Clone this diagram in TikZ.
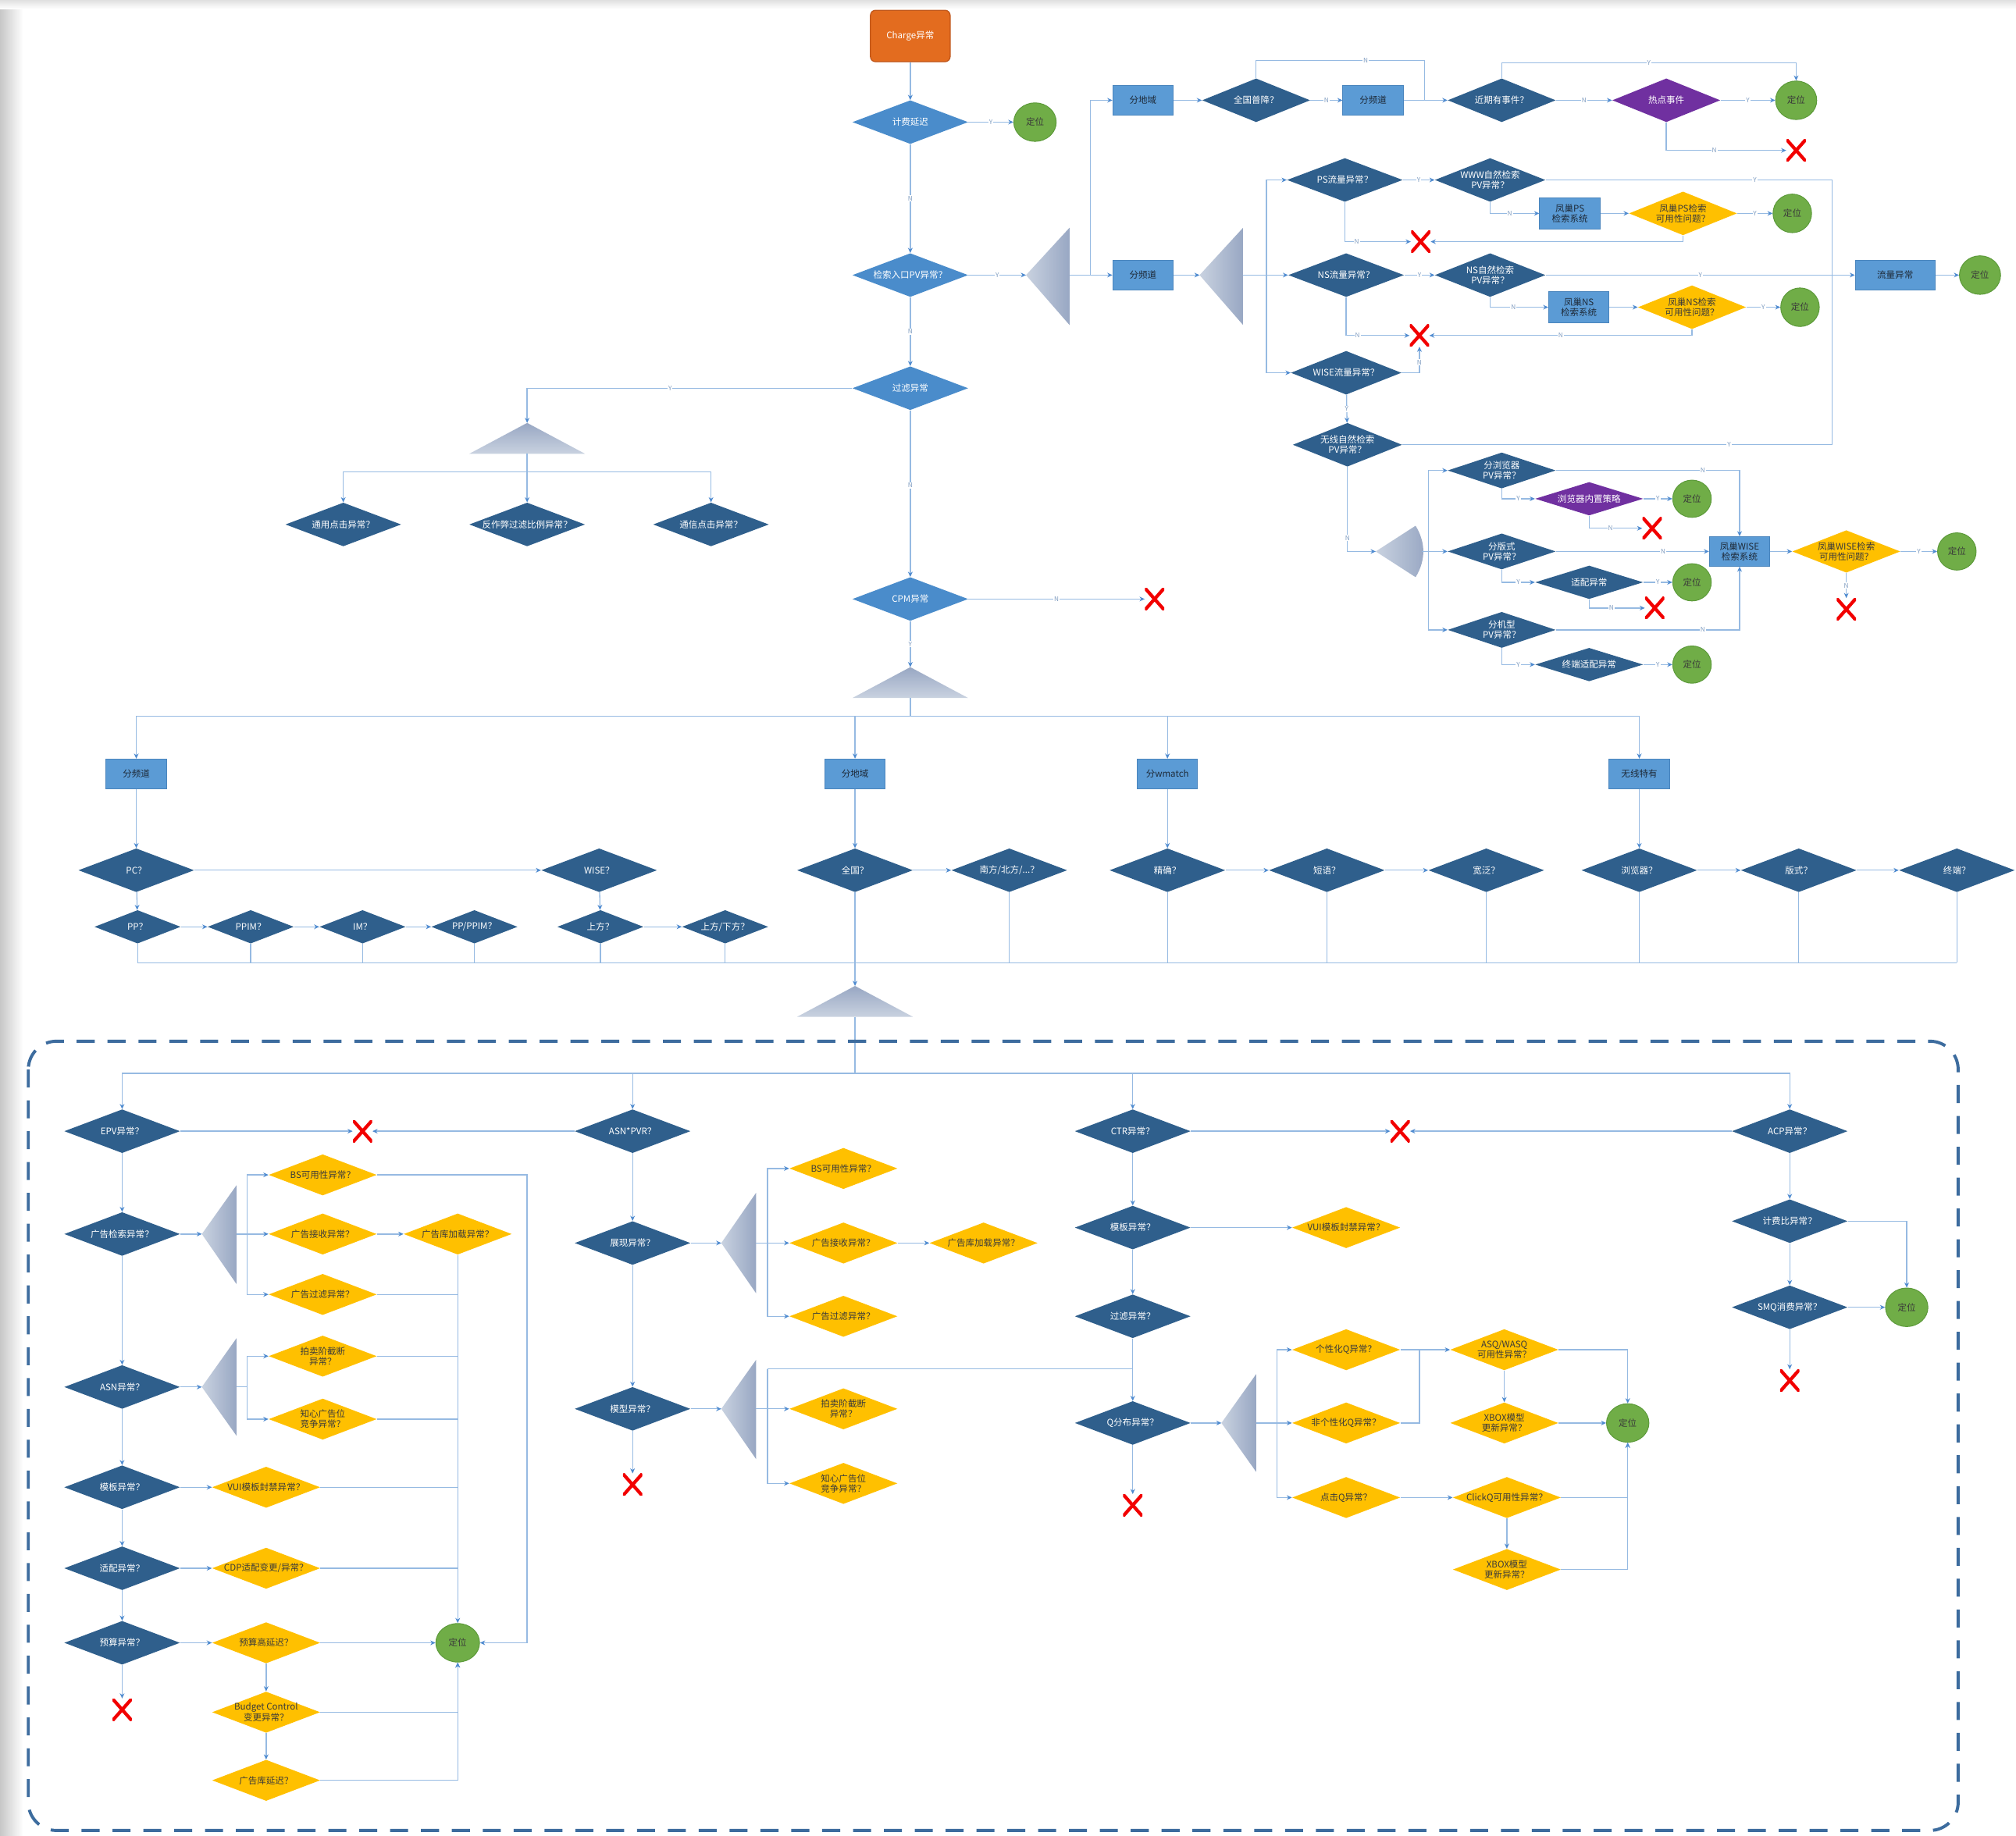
\documentclass[tikz,border=0pt]{standalone}
\usepackage{fontspec}
\setmainfont{Noto Sans CJK SC}
\usetikzlibrary{shapes.geometric,arrows.meta,calc}
\definecolor{mblue}{HTML}{4A8CCB}
\definecolor{dblue}{HTML}{2F5F8C}
\definecolor{yel}{HTML}{FFC000}
\definecolor{purp}{HTML}{7030A0}
\definecolor{boxblue}{HTML}{5B9BD5}
\definecolor{boxedge}{HTML}{4A85BD}
\definecolor{okgreen}{HTML}{70AD47}
\definecolor{okedge}{HTML}{5C9A3A}
\definecolor{orng}{HTML}{E36C1F}
\definecolor{orngedge}{HTML}{C0561A}
\definecolor{lnblue}{HTML}{96BAE2}
\definecolor{tipblue}{HTML}{4F8BD0}
\definecolor{labc}{HTML}{7F9CC0}
\definecolor{trilight}{HTML}{C9D2E0}
\definecolor{tridark}{HTML}{98A7C3}
\definecolor{dashc}{HTML}{3D6C9E}
\definecolor{xred}{HTML}{F20000}
\definecolor{ytext}{HTML}{3A3A3A}
\definecolor{boxtext}{HTML}{1E2A38}
\tikzset{
  base/.style={font=\fontsize{7}{8}\selectfont, align=center, inner sep=0pt},
  dia/.style={base, diamond, shape aspect=2.6, inner xsep=-9pt, inner ysep=-1pt, minimum width=90pt, minimum height=34pt},
  mdia/.style={dia, fill=mblue, text=white},
  ddia/.style={dia, fill=dblue, text=white},
  smdia/.style={minimum width=67pt, minimum height=26pt},
  ydia/.style={dia, fill=yel, text=ytext, minimum width=84pt, minimum height=32pt},
  pdia/.style={dia, fill=purp, text=white, minimum width=84pt},
  bbox/.style={base, rectangle, fill=boxblue, draw=boxedge, line width=0.6pt, minimum width=47pt, minimum height=23pt, text=boxtext},
  okc/.style={base, ellipse, fill=okgreen, draw=okedge, line width=0.6pt, inner sep=-3pt, minimum width=33pt, minimum height=30pt, text=ytext},
  chg/.style={base, rectangle, rounded corners=4pt, fill=orng, draw=orngedge, line width=0.8pt, minimum width=62pt, minimum height=40pt, text=white},
  xmk/.style={minimum width=15pt, minimum height=17pt, inner sep=0pt,
    path picture={\draw[xred, line width=2.6pt]
      (path picture bounding box.north west) -- (path picture bounding box.south east)
      (path picture bounding box.north east) -- (path picture bounding box.south west);}},
  ln/.style={draw=lnblue, line width=0.8pt},
  ar/.style={ln, -{Stealth[length=4pt,width=3.6pt,color=tipblue]}},
  lab/.style={font=\fontsize{5}{5}\selectfont, text=labc, fill=white, inner sep=0.6pt},
  trih/.style={left color=trilight, right color=tridark},
  trv/.style={top color=tridark, bottom color=trilight},
  dashbox/.style={draw=dashc, line width=2.4pt, dash pattern=on 14pt off 10pt, rounded corners=22pt}
}
\begin{document}
\begin{tikzpicture}[x=1pt,y=-1pt]
\useasboundingbox (0,0) rectangle (1568,1428);
\fill[white] (0,0) rectangle (1568,1428);
\shade[left color=black!22, right color=white] (0,0) rectangle (18,1428);
\shade[top color=black!12, bottom color=white] (0,0) rectangle (1568,7);

% ---------- main column ----------
\node[chg] (charge) at (708,28) {Charge异常};
\node[mdia] (m1) at (708,95) {计费延迟};
\node[okc] (ok1) at (805,95) {定位};
\node[mdia] (m2) at (708,214) {检索入口PV异常？};
\node[mdia] (m3) at (708,302) {过滤异常};
\node[mdia] (m4) at (708,466) {CPM异常};
\node[xmk] (x1) at (898,466) {};

\shade[trih] (798,214) -- (832,177) -- (832,253) -- cycle;
\coordinate (t1a) at (798,214); \coordinate (t1b) at (832,214);
\coordinate (j1) at (848,214);
\shade[trv] (410,329) -- (455,353) -- (365,353) -- cycle;
\coordinate (t3a) at (410,329); \coordinate (t3b) at (410,353);
\coordinate (c3) at (410,302); \coordinate (c4) at (410,367);
\shade[trv] (708,519) -- (753,543) -- (663,543) -- cycle;
\coordinate (t4a) at (708,519); \coordinate (t4b) at (708,543);
\coordinate (c5) at (708,557);

\draw[ar] (charge) -- (m1);
\draw[ar] (m1) -- node[lab]{Y} (ok1);
\draw[ar] (m1) -- node[lab]{N} (m2);
\draw[ar] (m2) -- node[lab]{Y} (t1a);
\draw[ar] (m2) -- node[lab]{N} (m3);
\draw[ar] (m3) -- node[lab,pos=0.45]{N} (m4);
\draw[ar] (m3.west) -- node[lab,pos=0.56]{Y} (c3) -- (t3a);
\draw[ar] (m4) -- node[lab]{N} (x1);
\draw[ar] (m4) -- node[lab]{Y} (t4a);

% left branch of filter
\node[ddia] (l1) at (267,408) {通用点击异常？};
\node[ddia] (l2) at (410,408) {反作弊过滤比例异常？};
\node[ddia] (l3) at (553,408) {通信点击异常？};
\draw[ar] (t3b) -- (l2);
\draw[ar] (c4) -| (l1);
\draw[ar] (c4) -| (l3);

% ---------- top right ----------
\node[bbox] (b1) at (889,78) {分地域};
\node[bbox] (b2) at (889,214) {分频道};
\node[ddia, minimum width=84pt] (d1) at (977,78) {全国普降？};
\node[bbox] (b3) at (1068,78) {分频道};
\node[ddia, minimum width=84pt] (d2) at (1168,78) {近期有事件？};
\node[pdia] (p1) at (1296,78) {热点事件};
\node[okc, minimum width=32pt] (ok2) at (1397,78) {定位};
\node[xmk] (x2) at (1397,117) {};

\draw[ar] (t1b) -- (b2);
\draw[ar] (t1b) -- (j1) |- (b1);
\draw[ar] (b1) -- (d1);
\draw[ar] (d1) -- node[lab]{N} (b3);
\draw[ar] (b3) -- (d2);
\draw[ln] (d1.north) -- (977,47) -- node[lab,pos=0.65]{N} (1108,47) -- (1108,78);
\draw[ar] (d2) -- node[lab]{N} (p1);
\draw[ar] (d2.north) -- (1168,49) -- node[lab]{Y} (1397,49) -- (ok2);
\draw[ar] (p1) -- node[lab]{Y} (ok2);
\draw[ar] (p1.south) |- node[lab,pos=0.7]{N} (x2);

% second branch
\shade[trih] (933,214) -- (967,177) -- (967,253) -- cycle;
\coordinate (t2a) at (933,214); \coordinate (t2b) at (967,214);
\coordinate (j2) at (985,214);
\node[ddia] (ps) at (1046,140) {PS流量异常？};
\node[ddia] (ns) at (1047,214) {NS流量异常？};
\node[ddia, minimum width=86pt] (wf) at (1047,290) {WISE流量异常？};
\draw[ar] (b2) -- (t2a);
\draw[ar] (t2b) -- (ns);
\draw[ar] (j2) |- (ps);
\draw[ar] (j2) |- (wf);

\node[ddia, minimum width=86pt] (www) at (1159,140) {WWW自然检索\\PV异常？};
\node[bbox, minimum height=24pt] (fps) at (1221,166) {凤巢PS\\检索系统};
\node[ydia, minimum height=34pt] (yps) at (1309,166) {凤巢PS检索\\可用性问题？};
\node[okc, minimum width=30pt] (ok3) at (1394,166) {定位};
\node[xmk] (x3) at (1105,188) {};
\draw[ar] (ps) -- node[lab]{Y} (www);
\draw[ar] (www.south) |- node[lab,pos=0.7]{N} (fps);
\draw[ar] (fps) -- (yps);
\draw[ar] (yps) -- node[lab]{Y} (ok3);
\draw[ar] (yps.south) |- (x3);
\draw[ar] (ps.south) |- node[lab,pos=0.59]{N} (x3);

\node[ddia, minimum width=86pt] (nsn) at (1159,214) {NS自然检索\\PV异常？};
\node[bbox, minimum height=24pt] (fns) at (1228,239) {凤巢NS\\检索系统};
\node[ydia, minimum height=34pt] (yns) at (1316,239) {凤巢NS检索\\可用性问题？};
\node[okc, minimum width=30pt] (ok4) at (1400,239) {定位};
\node[xmk] (x4) at (1104,261) {};
\node[bbox, minimum width=62pt] (flow) at (1474,214) {流量异常};
\node[okc, minimum width=32pt] (ok5) at (1540,214) {定位};
\draw[ar] (ns) -- node[lab]{Y} (nsn);
\draw[ar] (nsn) -- node[lab]{Y} (flow);
\draw[ar] (flow) -- (ok5);
\draw[ar] (nsn.south) |- node[lab,pos=0.7]{N} (fns);
\draw[ar] (fns) -- (yns);
\draw[ar] (yns) -- node[lab]{Y} (ok4);
\draw[ar] (yns.south) |- node[lab,pos=0.75]{N} (x4);
\draw[ar] (ns.south) |- node[lab,pos=0.59]{N} (x4);
\draw[ar] (wf.east) -| node[lab,pos=0.7]{N} (x4);

\node[ddia, minimum width=85pt] (wn) at (1048,346) {无线自然检索\\PV异常？};
\draw[ar] (wf) -- node[lab]{Y} (wn);
\draw[ln] (www.east) -- node[lab,pos=0.73]{Y} (1425,140) -- (1425,346) -- node[lab,pos=0.24]{Y} (wn.east);

% WISE subtree
\shade[trih] (1070,429) -- (1101,409) .. controls (1109,422) and (1109,436) .. (1101,449) -- cycle;
\coordinate (wtip) at (1070,429); \coordinate (wout) at (1106,429);
\coordinate (j3) at (1111,429);
\node[ddia, minimum width=84pt, minimum height=28pt] (sb) at (1168,366) {分浏览器\\PV异常？};
\node[ddia, minimum width=84pt, minimum height=28pt] (sv) at (1168,429) {分版式\\PV异常？};
\node[ddia, minimum width=84pt, minimum height=28pt] (sm) at (1168,490) {分机型\\PV异常？};
\node[pdia, minimum height=26pt] (pb) at (1236,388) {浏览器内置策略};
\node[okc, minimum width=30pt, minimum height=29pt] (ok6) at (1316,388) {定位};
\node[xmk] (x5) at (1285,411) {};
\node[ddia, minimum width=84pt, minimum height=26pt] (sa) at (1236,453) {适配异常};
\node[okc, minimum width=30pt, minimum height=29pt] (ok10) at (1316,453) {定位};
\node[xmk] (x12) at (1287,473) {};
\node[ddia, minimum width=84pt, minimum height=26pt] (st) at (1236,517) {终端适配异常};
\node[okc, minimum width=30pt, minimum height=29pt] (ok11) at (1316,517) {定位};
\node[bbox] (fw) at (1353,429) {凤巢WISE\\检索系统};
\node[ydia, minimum height=33pt] (yw) at (1436,429) {凤巢WISE检索\\可用性问题？};
\node[okc, minimum width=30pt, minimum height=29pt] (ok12) at (1522,429) {定位};
\node[xmk] (x13) at (1436,474) {};

\draw[ar] (wn.south) |- node[lab,pos=0.42]{N} (wtip);
\draw[ar] (wout) -- (sv);
\draw[ar] (j3) |- (sb);
\draw[ar] (j3) |- (sm);
\draw[ar] (sb.south) |- node[lab,pos=0.75]{Y} (pb);
\draw[ar] (pb) -- node[lab]{Y} (ok6);
\draw[ar] (pb.south) |- node[lab,pos=0.7]{N} (x5);
\draw[ar] (sb.east) -- node[lab,pos=0.8]{N} (1353,366) -- (fw.north);
\draw[ar] (sv) -- node[lab,pos=0.7]{N} (fw);
\draw[ar] (sm.east) -- node[lab,pos=0.8]{N} (1353,490) -- (fw.south);
\draw[ar] (sv.south) |- node[lab,pos=0.75]{Y} (sa);
\draw[ar] (sa) -- node[lab]{Y} (ok10);
\draw[ar] (sa.south) |- node[lab,pos=0.7]{N} (x12);
\draw[ar] (sm.south) |- node[lab,pos=0.75]{Y} (st);
\draw[ar] (st) -- node[lab]{Y} (ok11);
\draw[ar] (fw) -- (yw);
\draw[ar] (yw) -- node[lab]{Y} (ok12);
\draw[ar] (yw) -- node[lab]{N} (x13);

% ---------- middle dimension rows ----------
\node[bbox] (k1) at (106,602) {分频道};
\node[bbox] (k2) at (665,602) {分地域};
\node[bbox] (k3) at (908,602) {分wmatch};
\node[bbox] (k4) at (1275,602) {无线特有};
\draw[ln] (t4b) -- (c5);
\draw[ar] (c5) -| (k1);
\draw[ar] (c5) -| (k2);
\draw[ar] (c5) -| (k3);
\draw[ar] (c5) -| (k4);

\node[ddia] (r1) at (106,677) {PC？};
\node[ddia] (r2) at (466,677) {WISE？};
\node[ddia, smdia] (r3) at (107,721) {PP？};
\node[ddia, smdia] (r4) at (195,721) {PPIM？};
\node[ddia, smdia] (r5) at (282,721) {IM？};
\node[ddia, smdia] (r6) at (369,721) {PP/PPIM？};
\node[ddia, smdia] (r7) at (467,721) {上方？};
\node[ddia, smdia] (r8) at (564,721) {上方/下方？};
\node[ddia] (r9) at (665,677) {全国？};
\node[ddia] (r10) at (785,677) {南方/北方/...？};
\node[ddia] (r11) at (908,677) {精确？};
\node[ddia] (r12) at (1032,677) {短语？};
\node[ddia] (r13) at (1156,677) {宽泛？};
\node[ddia] (r14) at (1275,677) {浏览器？};
\node[ddia] (r15) at (1399,677) {版式？};
\node[ddia] (r16) at (1522,677) {终端？};

\draw[ar] (k1) -- (r1);
\draw[ar] (r1) -- (r2);
\draw[ar] (r1) -- (r3);
\draw[ar] (r3) -- (r4);
\draw[ar] (r4) -- (r5);
\draw[ar] (r5) -- (r6);
\draw[ar] (r2) -- (r7);
\draw[ar] (r7) -- (r8);
\draw[ar] (k2) -- (r9);
\draw[ar] (r9) -- (r10);
\draw[ar] (k3) -- (r11);
\draw[ar] (r11) -- (r12);
\draw[ar] (r12) -- (r13);
\draw[ar] (k4) -- (r14);
\draw[ar] (r14) -- (r15);
\draw[ar] (r15) -- (r16);

\coordinate (bl) at (107,749); \coordinate (br) at (1522,749);
\draw[ln] (bl) -- (br);
\foreach \n in {r3,r4,r5,r6,r7,r8,r10,r11,r12,r13,r14,r15,r16}
  \draw[ln] (\n.south) -- (\n.south |- bl);
\shade[trv] (665,767) -- (710,791) -- (620,791) -- cycle;
\coordinate (t5a) at (665,767); \coordinate (t5b) at (665,791);
\draw[ar] (r9.south) -- (t5a);
\coordinate (c7) at (665,835);
\draw[ln] (t5b) -- (c7);

% ---------- dashed region ----------
\draw[dashbox] (22,810) rectangle (1523,1424);

% column 1
\node[ddia] (e1) at (95,880) {EPV异常？};
\node[xmk] (x6) at (282,880) {};
\node[ddia] (e2) at (95,960) {广告检索异常？};
\node[ddia] (e3) at (95,1079) {ASN异常？};
\node[ddia] (e4) at (95,1157) {模板异常？};
\node[ddia] (e5) at (95,1220) {适配异常？};
\node[ddia] (e6) at (95,1278) {预算异常？};
\node[xmk] (x7) at (95,1330) {};
\node[ydia] (y1) at (251,914) {BS可用性异常？};
\node[ydia] (y2) at (251,960) {广告接收异常？};
\node[ydia] (y3) at (356,960) {广告库加载异常？};
\node[ydia] (y4) at (251,1007) {广告过滤异常？};
\node[ydia] (y5) at (251,1055) {拍卖阶截断\\异常？};
\node[ydia] (y6) at (251,1104) {知心广告位\\竞争异常？};
\node[ydia] (y7) at (207,1157) {VUI模板封禁异常？};
\node[ydia] (y8) at (207,1220) {CDP适配变更/异常？};
\node[ydia] (y9) at (207,1278) {预算高延迟？};
\node[ydia] (y10) at (207,1332) {Budget Control\\变更异常？};
\node[ydia] (y11) at (207,1385) {广告库延迟？};
\node[okc, minimum width=34pt] (ok7) at (356,1278) {定位};

\shade[trih] (157,960) -- (184,922) -- (184,999) -- cycle;
\coordinate (tb1a) at (157,960); \coordinate (tb1b) at (184,960); \coordinate (j4) at (192,960);
\shade[trih] (157,1079) -- (184,1041) -- (184,1117) -- cycle;
\coordinate (tb2a) at (157,1079); \coordinate (tb2b) at (184,1079); \coordinate (j5) at (192,1079);
\coordinate (c8) at (410,914);

\draw[ar] (c7) -| (e1);
\draw[ar] (e1) -- (x6);
\draw[ar] (e1) -- (e2);
\draw[ar] (e2) -- (e3);
\draw[ar] (e3) -- (e4);
\draw[ar] (e4) -- (e5);
\draw[ar] (e5) -- (e6);
\draw[ar] (e6) -- (x7);
\draw[ar] (e2) -- (tb1a);
\draw[ar] (tb1b) -- (y2);
\draw[ar] (j4) |- (y1);
\draw[ar] (j4) |- (y4);
\draw[ar] (y2) -- (y3);
\draw[ar] (y3.south) -- (ok7);
\draw[ar] (y1.east) -- (c8) |- (ok7);
\draw[ar] (e3) -- (tb2a);
\draw[ln] (tb2b) -- (j5);
\draw[ar] (j5) |- (y5);
\draw[ar] (j5) |- (y6);
\draw[ar] (e4) -- (y7);
\draw[ar] (e5) -- (y8);
\draw[ar] (e6) -- (y9);
\draw[ar] (y9) -- (ok7);
\draw[ar] (y9) -- (y10);
\draw[ar] (y10) -- (y11);
\foreach \n in {y4,y5,y6,y7,y8}
  \draw[ln] (\n.east) -- (\n.east -| ok7);
\draw[ar] (y10.east) -| (ok7);
\draw[ar] (y11.east) -| (ok7);

% column 2
\node[ddia] (a1) at (492,880) {ASN*PVR？};
\node[ddia] (a2) at (492,967) {展现异常？};
\node[ddia] (a3) at (492,1096) {模型异常？};
\node[xmk] (x8) at (492,1155) {};
\node[ydia] (z1) at (656,909) {BS可用性异常？};
\node[ydia] (z2) at (656,967) {广告接收异常？};
\node[ydia] (z3) at (765,967) {广告库加载异常？};
\node[ydia] (z4) at (656,1024) {广告过滤异常？};
\node[ydia] (z5) at (656,1096) {拍卖阶截断\\异常？};
\node[ydia] (z6) at (656,1154) {知心广告位\\竞争异常？};
\shade[trih] (561,967) -- (588,928) -- (588,1006) -- cycle;
\coordinate (tb3a) at (561,967); \coordinate (tb3b) at (588,967); \coordinate (j6) at (597,967);
\shade[trih] (561,1096) -- (588,1058) -- (588,1135) -- cycle;
\coordinate (tb4a) at (561,1096); \coordinate (tb4b) at (588,1096); \coordinate (j7) at (597,1065);

\draw[ar] (c7) -| (a1);
\draw[ar] (a1) -- (x6);
\draw[ar] (a1) -- (a2);
\draw[ar] (a2) -- (a3);
\draw[ar] (a3) -- (x8);
\draw[ar] (a2) -- (tb3a);
\draw[ar] (tb3b) -- (z2);
\draw[ar] (j6) |- (z1);
\draw[ar] (j6) |- (z4);
\draw[ar] (z2) -- (z3);
\draw[ar] (a3) -- (tb4a);
\draw[ar] (tb4b) -- (z5);
\draw[ar] (j7) |- (z6);

% column 3
\node[ddia] (q1) at (881,880) {CTR异常？};
\node[xmk] (x9) at (1089,880) {};
\node[ddia] (q2) at (881,955) {模板异常？};
\node[ydia] (qv) at (1047,955) {VUI模板封禁异常？};
\node[ddia] (q3) at (881,1024) {过滤异常？};
\node[ddia] (q4) at (881,1107) {Q分布异常？};
\node[xmk] (x10) at (881,1171) {};
\node[ydia] (qa) at (1047,1050) {个性化Q异常？};
\node[ydia] (qb) at (1047,1107) {非个性化Q异常？};
\node[ydia] (qc) at (1047,1165) {点击Q异常？};
\node[ydia] (qd) at (1170,1050) {ASQ/WASQ\\可用性异常？};
\node[ydia] (qe) at (1170,1107) {XBOX模型\\更新异常？};
\node[ydia] (qf) at (1172,1165) {ClickQ可用性异常？};
\node[ydia] (qg) at (1172,1221) {XBOX模型\\更新异常？};
\node[okc] (ok8) at (1266,1107) {定位};
\shade[trih] (950,1107) -- (977,1069) -- (977,1145) -- cycle;
\coordinate (tb5a) at (950,1107); \coordinate (tb5b) at (977,1107); \coordinate (j8) at (993,1107);
\coordinate (c9) at (881,1065);

\draw[ln] (j7) -- (c9);
\draw[ar] (c7) -| (q1);
\draw[ar] (q1) -- (x9);
\draw[ar] (q1) -- (q2);
\draw[ar] (q2) -- (qv);
\draw[ar] (q2) -- (q3);
\draw[ar] (q3) -- (q4);
\draw[ar] (q4) -- (x10);
\draw[ar] (q4) -- (tb5a);
\draw[ar] (tb5b) -- (qb);
\draw[ar] (j8) |- (qa);
\draw[ar] (j8) |- (qc);
\draw[ar] (qa) -- (qd);
\draw[ln] (qb.east) -- (1104,1107) -- (1104,1050);
\draw[ar] (qd) -- (qe);
\draw[ar] (qd.east) -| (ok8);
\draw[ar] (qe) -- (ok8);
\draw[ar] (qc) -- (qf);
\draw[ar] (qf) -- (qg);
\draw[ar] (qf.east) -| (ok8);
\draw[ar] (qg.east) -| (ok8);

% column 4
\node[ddia] (f1) at (1392,880) {ACP异常？};
\node[ddia] (f2) at (1392,950) {计费比异常？};
\node[ddia] (f3) at (1392,1017) {SMQ消费异常？};
\node[okc] (ok9) at (1483,1017) {定位};
\node[xmk] (x11) at (1392,1074) {};
\draw[ar] (c7) -| (f1);
\draw[ar] (f1) -- (x9);
\draw[ar] (f1) -- (f2);
\draw[ar] (f2) -- (f3);
\draw[ar] (f3) -- (ok9);
\draw[ar] (f2.east) -| (ok9);
\draw[ar] (f3) -- (x11);
\end{tikzpicture}
\end{document}
